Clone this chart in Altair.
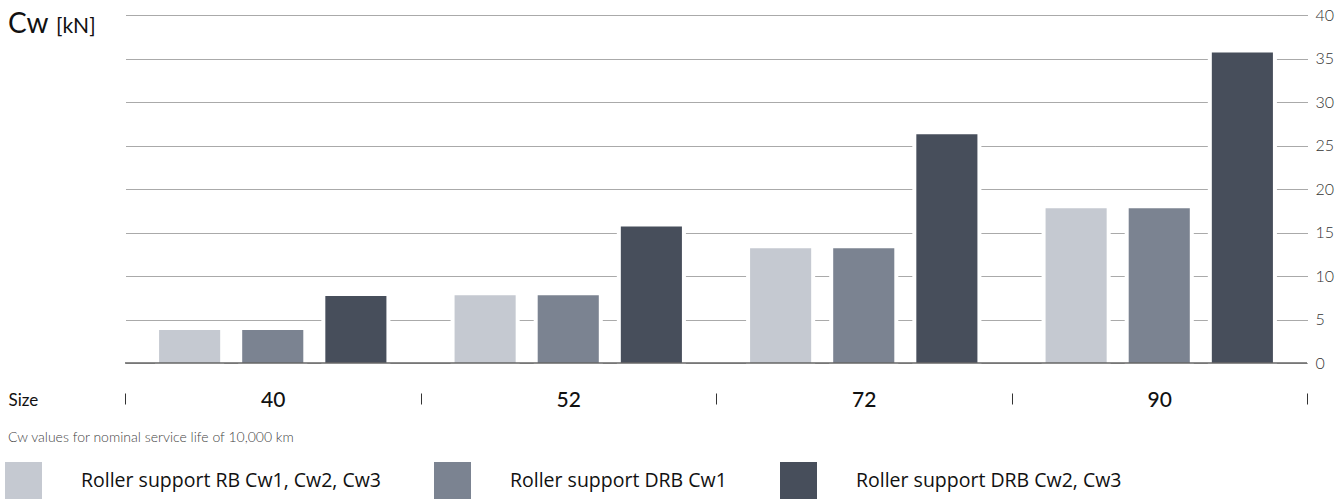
import altair as alt
import pandas as pd

sizes = ["40", "52", "72", "90"]
series = ["Roller support RB Cw1, Cw2, Cw3", "Roller support DRB Cw1", "Roller support DRB Cw2, Cw3"]
colors = ["#C5C9D1", "#7B8391", "#474E5B"]
values_rb = [3.8, 7.8, 13.2, 17.8]
values_drb1 = [3.8, 7.8, 13.2, 17.8]
values_drb23 = [7.7, 15.7, 26.3, 35.7]
y_ticks = [0, 5, 10, 15, 20, 25, 30, 35, 40]

rows = []
for s, vals in zip(series, [values_rb, values_drb1, values_drb23]):
    for size, v in zip(sizes, vals):
        rows.append({"Size": size, "Series": s, "Cw": v})
df = pd.DataFrame(rows)

FONT = "Lato"
LEG_FONT = "Open Sans"

x_enc = alt.X(
    "Size:N", sort=sizes,
    scale=alt.Scale(paddingInner=0, paddingOuter=0),
    axis=alt.Axis(
        title="Size", orient="bottom", offset=30, domain=False,
        ticks=True, tickBand="extent", tickSize=11, tickColor="#333", tickWidth=1,
        labelFontSize=21, labelColor="#111", labelFontWeight=500, labelPadding=-4,
        labelBaseline="middle", labelAngle=0, labelFont=FONT,
        titleX=-117, titleY=7, titleAlign="left", titleBaseline="middle",
        titleFontSize=17, titleFontWeight=400, titleColor="#111", titleFont=FONT, titleAngle=0,
    ),
)
xo_enc = alt.XOffset("Series:N", sort=series, scale=alt.Scale(paddingInner=0.265, paddingOuter=0.41))
y_enc = alt.Y(
    "Cw:Q",
    scale=alt.Scale(domain=[0, 40], nice=False),
    axis=alt.Axis(
        orient="right", values=y_ticks, title="", domain=False, ticks=False,
        grid=True, gridDash=[1, 1], gridColor="#555", gridWidth=1,
        labelFontSize=16, labelColor="#333", labelFont=FONT, labelFontWeight=300,
        labelPadding=8, labelBaseline="middle",
    ),
)

base = alt.Chart(df)

white = base.mark_bar(color="white", stroke="white", strokeWidth=8).encode(
    x=x_enc,
    xOffset=xo_enc,
    y=y_enc,
)

bars = base.mark_bar().encode(
    x=x_enc,
    xOffset=xo_enc,
    y=y_enc,
    color=alt.Color(
        "Series:N", sort=series,
        scale=alt.Scale(domain=series, range=colors),
        legend=alt.Legend(
            title=None, orient="none", legendX=-120, legendY=447,
            direction="horizontal", columns=3, gridAlign="none",
            symbolType="square", symbolSize=1369, symbolStrokeWidth=0, symbolOpacity=1,
            labelFontSize=19.5, labelColor="#111", labelFont=LEG_FONT, labelOffset=39,
            columnPadding=53, padding=0, offset=0, labelLimit=400,
        ),
    ),
)

baseline = alt.Chart(pd.DataFrame({"z": [0]})).mark_rule(color="#666", strokeWidth=1.5).encode(
    y=alt.datum(0)
)

cw = alt.Chart(pd.DataFrame({"t": ["Cw"]})).mark_text(
    align="left", baseline="alphabetic", fontSize=28, font=FONT, color="#111"
).encode(text="t:N", x=alt.value(-117), y=alt.value(18))
kn = alt.Chart(pd.DataFrame({"t": ["[kN]"]})).mark_text(
    align="left", baseline="alphabetic", fontSize=21, font=FONT, color="#111"
).encode(text="t:N", x=alt.value(-69), y=alt.value(18))
note = alt.Chart(pd.DataFrame({"t": ["Cw values for nominal service life of 10,000 km"]})).mark_text(
    align="left", baseline="middle", fontSize=14, font=FONT, fontWeight=300, color="#444"
).encode(text="t:N", x=alt.value(-117), y=alt.value(423))

chart = alt.layer(white, bars, baseline, cw, kn, note).properties(
    width=1182, height=348,
    autosize=alt.AutoSizeParams(type="none"),
    padding={"left": 125, "top": 15, "right": 37, "bottom": 136},
).configure(font=FONT).configure_view(strokeWidth=0)

chart.save("out.html", embed_options={"renderer": "svg", "actions": False})
